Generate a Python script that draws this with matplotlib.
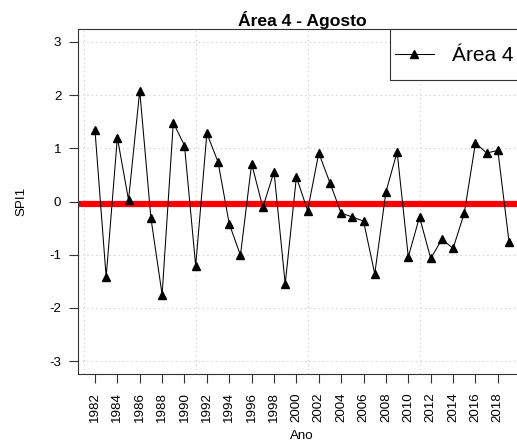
import matplotlib
matplotlib.use("Agg")
import matplotlib.pyplot as plt
from matplotlib.legend_handler import HandlerLine2D
from matplotlib.lines import Line2D
import numpy as np

plt.rcParams['font.family'] = ['Liberation Sans', 'DejaVu Sans']

years = list(range(1982, 2020))
spi1 = [1.34, -1.42, 1.20, 0.03, 2.08, -0.31, -1.75, 1.48, 1.05, -1.21,
        1.28, 0.74, -0.42, -1.01, 0.71, -0.11, 0.56, -1.55, 0.46, -0.17,
        0.91, 0.35, -0.22, -0.29, -0.37, -1.36, 0.18, 0.93, -1.04, -0.29,
        -1.07, -0.71, -0.88, -0.22, 1.10, 0.91, 0.96, -0.76]
ref_level = -0.05
xtick_years = list(range(1982, 2019, 2))
yticks = [-3, -2, -1, 0, 1, 2, 3]
title = "Área 4 - Agosto"
series_label = "Área 4"


class LowerHandler(HandlerLine2D):
    def create_artists(self, legend, orig_handle, xdescent, ydescent, width,
                       height, fontsize, trans):
        return super().create_artists(legend, orig_handle, xdescent, ydescent + 10.0,
                                      width, height, fontsize, trans)


W, H = 517, 443
fig = plt.figure(figsize=(W / 100, H / 100), dpi=100)
left, right, top, bottom = 78.4, 525.6, 29.0, 374.0
ax = fig.add_axes([left / W, 1 - bottom / H, (right - left) / W, (bottom - top) / H])

pad_x = 0.04 * (years[-1] - years[0])
ax.set_xlim(years[0] - pad_x, years[-1] + pad_x)
ax.set_ylim(-3.24, 3.24)

# grid (R grid(): pretty ticks on index scale 0,10,20,30)
for k in range(0, 40, 10):
    ax.axvline(years[0] - 1 + k, color='#c8c8c8', lw=0.8, ls=(0, (1, 3)), zorder=0)
for yv in yticks:
    ax.axhline(yv, color='#c8c8c8', lw=0.8, ls=(0, (1, 3)), zorder=0)

ax.axhline(ref_level, color='#ff0000', lw=4.5, zorder=1)
ax.plot(years, spi1, color='black', lw=0.75, marker='^', markersize=6,
        markerfacecolor='black', markeredgecolor='black', zorder=3, label=series_label)

ax.set_xticks(xtick_years)
ax.set_xticklabels([str(y) for y in xtick_years], rotation=90, fontsize=9.6)
ax.set_yticks(yticks)
ax.set_yticklabels([str(v) for v in yticks], fontsize=9.6)
ax.tick_params(axis='both', direction='out', length=6.5, width=0.8, color='#333333')
ax.tick_params(axis='x', pad=6.5)
ax.tick_params(axis='y', pad=5.8)

for s in ax.spines.values():
    s.set_color('#333333')
    s.set_linewidth(0.8)

ax.set_title(title, fontsize=12.6, fontweight='bold', pad=2)
ax.set_xlabel("Ano", fontsize=9.6, labelpad=5.5)
ax.set_ylabel("SPI1", fontsize=9.6, labelpad=16)

leg = ax.legend(loc='upper right', bbox_to_anchor=(1 - 6.5 / (right - left), 1),
                borderaxespad=0,
                fancybox=False, edgecolor='#333333', framealpha=1,
                fontsize=15, handlelength=1.86, handletextpad=0.9,
                handleheight=2.6, borderpad=0.25, markerscale=1.0,
                handler_map={Line2D: LowerHandler()})
leg.get_frame().set_linewidth(0.8)

fig.savefig("out.png", dpi=100)
